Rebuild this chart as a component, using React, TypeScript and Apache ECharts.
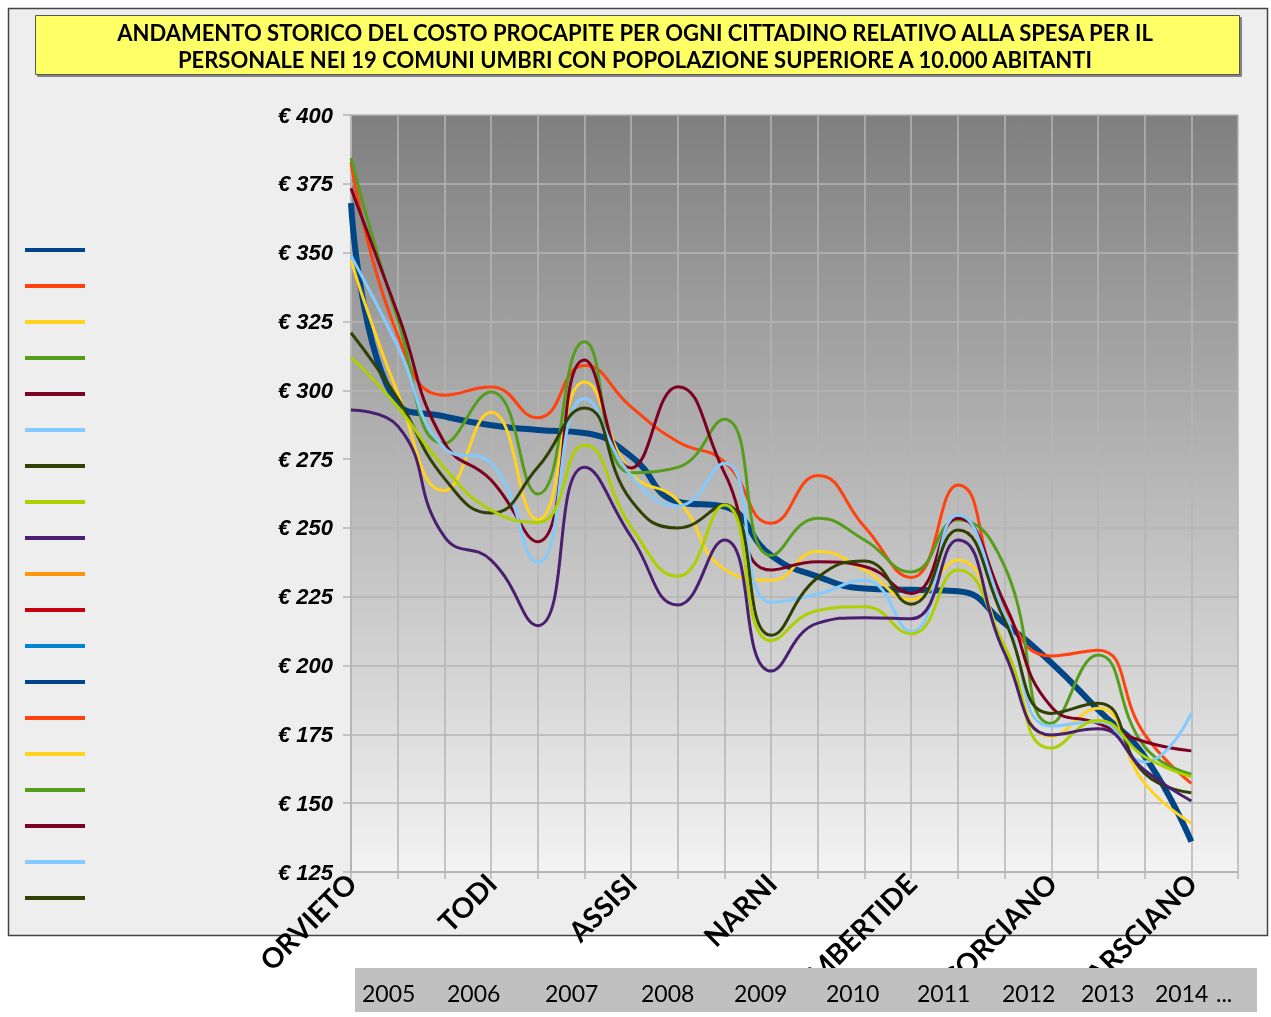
import React, { useEffect, useRef } from "react";
import * as echarts from "echarts";

// ---- DATA ----
const comuni = [
  "ORVIETO", "SPOLETO", "PERUGIA", "TODI", "TERNI", "FOLIGNO", "ASSISI",
  "GUBBIO", "AMELIA", "NARNI", "CITTÀ DI CASTELLO", "GUALDO TADINO",
  "UMBERTIDE", "MAGIONE", "CASTIGLIONE DEL LAGO", "CORCIANO",
  "SAN GIUSTINO", "BASTIA UMBRA", "MARSCIANO", "",
];

const serie1 = [368, 295, 290.5, 287.3, 285.6, 284.5, 276, 259.5, 257.7, 240, 232.3, 228, 227.5, 227, 215.3, 201, 184, 167, 136];
const serie2 = [383, 320, 298.2, 301.2, 290, 309, 294, 281.3, 274, 251.7, 269, 250.4, 232, 265.6, 221.4, 203.5, 205.6, 175, 157.2];
const serie3 = [347.3, 299, 263.5, 292, 253, 303, 270, 260, 235, 231, 241.4, 234.7, 224, 238.3, 207, 174.2, 184.5, 157.2, 142.7];
const serie4 = [384.3, 326, 280.7, 299.4, 262.3, 317.6, 270, 272, 289.5, 240, 253.5, 245.6, 234, 253, 236, 179, 203.8, 170.5, 160.5];
const serie5 = [373.4, 328, 281, 267.4, 245, 311, 271.8, 301.3, 270, 234.7, 237.7, 236, 226.2, 253.5, 222.6, 185, 179, 172.3, 169];
const serie6 = [348.9, 316, 279, 273.6, 237.5, 297, 269, 258, 273.5, 223, 226, 231, 212.3, 254.7, 219, 178, 179.6, 165, 182.6];
const serie7 = [320.9, 297, 268, 255.4, 272, 293.6, 260, 250, 258.5, 211, 232, 238, 222.3, 249.2, 216.5, 182.6, 186.3, 160.8, 153.8];
const serie8 = [312.1, 294, 271.8, 256.5, 252, 280, 250.4, 232.4, 258.3, 209, 220, 221.4, 211.5, 234.7, 207, 170, 180, 166.9, 159.6];
const serie9 = [292.8, 287, 246.8, 238.3, 214.5, 272, 246.8, 222, 245.6, 198, 215.4, 217.4, 217, 245.6, 204.5, 174.8, 177, 162, 150.8];

const seriesValues: number[][] = [serie1, serie2, serie3, serie4, serie5, serie6, serie7, serie8, serie9];
const seriesNames = Array.from({ length: 19 }, (_, i) => "Serie " + (i + 1));

const yearLabels = ["2005", "2006", "2007", "2008", "2009", "2010", "2011", "2012", "2013", "2014", "..."];

const titleText =
  "ANDAMENTO STORICO DEL COSTO PROCAPITE PER OGNI CITTADINO RELATIVO ALLA SPESA PER IL\nPERSONALE NEI 19 COMUNI UMBRI CON POPOLAZIONE SUPERIORE A 10.000 ABITANTI";

// ---- STYLE ----
const palette = [
  "#004586", "#ff420e", "#ffd320", "#579d1c", "#7e0021", "#83caff",
  "#314004", "#aecf00", "#4b1f6f", "#ff950e", "#c5000b", "#0084d1",
  "#004586", "#ff420e", "#ffd320", "#579d1c", "#7e0021", "#83caff", "#314004",
];
const yearX = [362, 447, 545, 641, 734, 826, 917, 1002, 1081, 1155, 1216];
const gridColor = "#b4b4b4";

export default function App() {
  const ref = useRef<HTMLDivElement>(null);

  useEffect(() => {
    const chart = echarts.init(ref.current!, null, { renderer: "svg" });

    const series: any[] = seriesNames.map((name, i) => ({
      type: "line",
      name,
      data: seriesValues[i] ? seriesValues[i] : [],
      smooth: 0.5,
      symbol: "none",
      showSymbol: false,
      color: palette[i],
      itemStyle: { color: palette[i] },
      lineStyle: { color: palette[i], width: i === 0 ? 6 : 3 },
      emphasis: { disabled: true },
    }));

    const option: any = {
      animation: false,
      backgroundColor: "transparent",
      graphic: [
        {
          type: "rect",
          z: -100,
          silent: true,
          shape: { x: 8.5, y: 8.5, width: 1259, height: 927 },
          style: { fill: "#eeeeee", stroke: "#444444", lineWidth: 1.5 },
        },
        {
          type: "rect",
          z: 50,
          silent: true,
          shape: { x: 35.5, y: 15.5, width: 1204, height: 59 },
          style: {
            fill: "#ffff66",
            stroke: "#555555",
            lineWidth: 1,
            shadowColor: "rgba(0,0,0,0.45)",
            shadowOffsetX: 2,
            shadowOffsetY: 2,
            shadowBlur: 0,
          },
        },
        {
          type: "text",
          z: 51,
          silent: true,
          x: 635,
          y: 46,
          style: {
            text: titleText,
            font: "bold 22px Lato, 'Liberation Sans', sans-serif",
            fill: "#000000",
            align: "center",
            verticalAlign: "middle",
            lineHeight: 27,
          },
        },
        {
          type: "rect",
          z: 100,
          silent: true,
          shape: { x: 355, y: 968, width: 902, height: 44 },
          style: { fill: "#c0c0c0" },
        },
        ...yearLabels.map((t, i) => ({
          type: "text",
          z: 101,
          silent: true,
          x: yearX[i],
          y: 993,
          style: {
            text: t,
            font: "23px Lato, 'Liberation Sans', sans-serif",
            fill: "#000000",
            align: "left",
            verticalAlign: "middle",
          },
        })),
      ],
      legend: {
        orient: "vertical",
        left: 20,
        top: 243,
        itemWidth: 60,
        itemHeight: 4,
        itemGap: 32,
        icon: "rect",
        selectedMode: false,
        formatter: () => "",
        textStyle: { fontSize: 1, lineHeight: 1 },
        data: seriesNames,
      },
      grid: {
        left: 351,
        top: 115,
        right: 33,
        bottom: 145,
        show: true,
        borderWidth: 0,
        outerBoundsMode: "none",
        backgroundColor: new echarts.graphic.LinearGradient(0, 0, 0, 1, [
          { offset: 0, color: "#7f7f7f" },
          { offset: 1, color: "#f3f3f3" },
        ]),
      },
      xAxis: {
        type: "category",
        data: comuni,
        boundaryGap: false,
        axisLine: { show: true, lineStyle: { color: gridColor, width: 2 } },
        axisTick: { show: true, interval: 0, length: 7, lineStyle: { color: gridColor, width: 1.5 } },
        splitLine: { show: true, interval: 0, lineStyle: { color: gridColor, width: 1.5 } },
        axisLabel: {
          interval: 2,
          rotate: 45,
          margin: 6,
          color: "#000000",
          fontFamily: "Lato, 'Liberation Sans', sans-serif",
          fontWeight: "bold",
          fontSize: 28,
        },
      },
      yAxis: {
        type: "value",
        min: 125,
        max: 400,
        interval: 25,
        axisLine: { show: true, lineStyle: { color: gridColor, width: 2 } },
        axisTick: { show: true, length: 8, lineStyle: { color: gridColor, width: 1.5 } },
        splitLine: { show: true, lineStyle: { color: gridColor, width: 1.5 } },
        axisLabel: {
          margin: 18,
          color: "#000000",
          fontFamily: "'Liberation Sans', Arial, sans-serif",
          fontWeight: "bold",
          fontStyle: "italic",
          fontSize: 22,
          formatter: (v: number) => "€ " + v,
        },
      },
      series,
    };

    chart.setOption(option);
    return () => chart.dispose();
  }, []);

  return (
    <div
      ref={ref}
      style={{ position: "fixed", left: 0, top: 0, width: 1271, height: 1017 }}
    />
  );
}
